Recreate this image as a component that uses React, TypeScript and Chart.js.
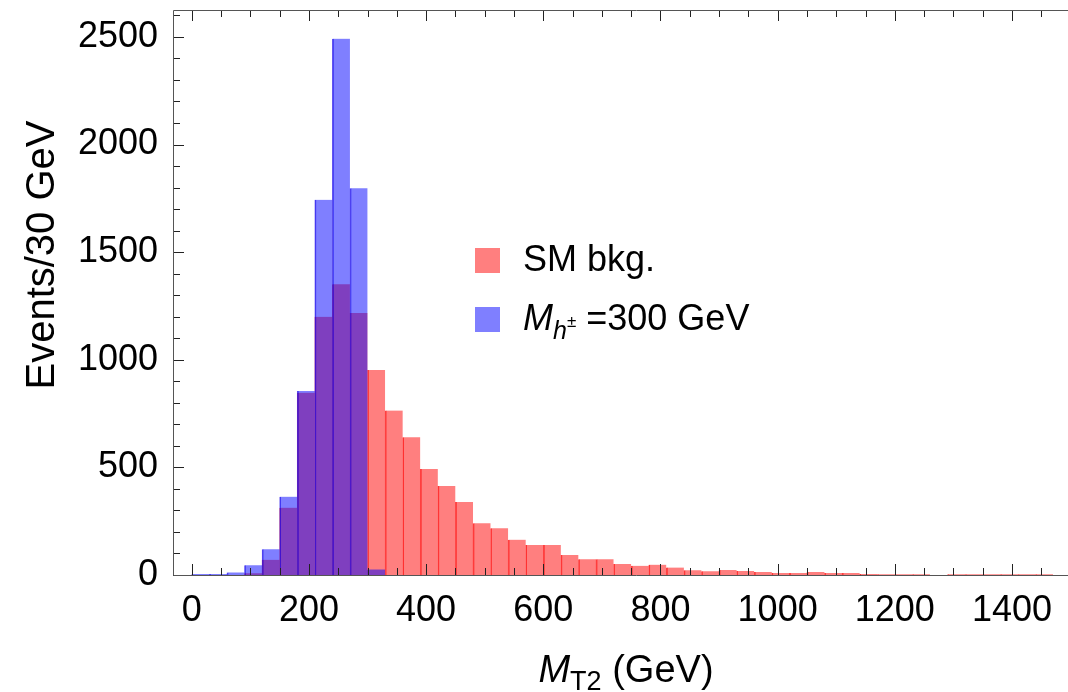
import React, { useEffect, useRef } from "react";
import { Chart, registerables } from "chart.js";

Chart.register(...registerables);

// Lower edges of the 30 GeV bins (GeV)
const BIN_LOW_EDGES = [
  0, 30, 60, 90, 120, 150, 180, 210, 240, 270, 300, 330, 360, 390, 420, 450,
  480, 510, 540, 570, 600, 630, 660, 690, 720, 750, 780, 810, 840, 870, 900,
  930, 960, 990, 1020, 1050, 1080, 1110, 1140, 1170, 1200, 1230, 1260, 1290,
  1320, 1350, 1380, 1410, 1440,
];
const BIN_WIDTH_GEV = 30;

// M_h± = 300 GeV signal
const SIGNAL_EVENTS = [
  5, 5, 12, 45, 120, 364, 855, 1743, 2492, 1797, 26, 0, 0, 0, 0, 0, 0, 0, 0,
  0, 0, 0, 0, 0, 0, 0, 0, 0, 0, 0, 0, 0, 0, 0, 0, 0, 0, 0, 0, 0, 0, 0, 0, 0,
  0, 0, 0, 0, 0,
];

// SM background
const BKG_EVENTS = [
  0, 0, 0, 8, 71, 313, 847, 1200, 1351, 1217, 953, 764, 640, 493, 414, 339,
  240, 217, 164, 139, 139, 93, 73, 73, 51, 43, 48, 35, 22, 17, 23, 19, 14, 9,
  9, 14, 9, 9, 5, 4, 4, 3, 0, 3, 4, 4, 3, 4, 3,
];

const X_TICK_VALUES = [0, 200, 400, 600, 800, 1000, 1200, 1400];
const Y_TICK_VALUES = [0, 500, 1000, 1500, 2000, 2500];
const X_MINOR_STEP = 50;
const Y_MINOR_STEP = 100;

const FONT = '"Liberation Sans", Arial, sans-serif';

const framePlugin = {
  id: "mmaFrame",
  afterDatasetsDraw(chart: any) {
    const { ctx, chartArea: a, scales } = chart;
    const xs = scales.x;
    const ys = scales.y;
    ctx.save();
    ctx.lineWidth = 1;
    ctx.strokeStyle = "#222";
    // x ticks (bottom and top, inward)
    for (let v = 0; v <= xs.max; v += X_MINOR_STEP) {
      const px = Math.round(xs.getPixelForValue(v)) + 0.5;
      const len = X_TICK_VALUES.includes(v) ? 11 : 7;
      ctx.beginPath();
      ctx.moveTo(px, a.bottom);
      ctx.lineTo(px, a.bottom - len);
      ctx.moveTo(px, a.top);
      ctx.lineTo(px, a.top + len);
      ctx.stroke();
    }
    // y ticks (left, inward)
    for (let v = 0; v <= ys.max; v += Y_MINOR_STEP) {
      const py = Math.round(ys.getPixelForValue(v)) + 0.5;
      const len = Y_TICK_VALUES.includes(v) ? 11 : 7;
      ctx.beginPath();
      ctx.moveTo(a.left, py);
      ctx.lineTo(a.left + len, py);
      ctx.stroke();
    }
    // frame
    ctx.strokeStyle = "#555";
    const l = Math.round(a.left) + 0.5;
    const t = Math.round(a.top) + 0.5;
    const b = Math.round(a.bottom) + 0.5;
    ctx.beginPath();
    ctx.moveTo(a.right + 5, t);
    ctx.lineTo(l, t);
    ctx.lineTo(l, b);
    ctx.lineTo(a.right + 5, b);
    ctx.stroke();
    ctx.restore();
  },
};

export default function App() {
  const canvasRef = useRef<HTMLCanvasElement | null>(null);

  useEffect(() => {
    const canvas = canvasRef.current;
    if (!canvas) return;
    const chart = new Chart(canvas, {
      type: "bar",
      data: {
        datasets: [
          {
            label: "M_h± =300 GeV",
            data: BIN_LOW_EDGES.map((lo, i) => ({
              x: lo + BIN_WIDTH_GEV / 2,
              y: SIGNAL_EVENTS[i],
            })),
            backgroundColor: "rgba(0,0,255,0.5)",
            borderColor: "rgba(40,20,230,0.75)",
            borderWidth: { left: 1, right: 0, top: 0, bottom: 0 },
            borderSkipped: false,
            grouped: false,
            categoryPercentage: 1,
            barPercentage: 1,
          } as any,
          {
            label: "SM bkg.",
            data: BIN_LOW_EDGES.map((lo, i) => ({
              x: lo + BIN_WIDTH_GEV / 2,
              y: BKG_EVENTS[i],
            })),
            backgroundColor: "rgba(255,0,0,0.5)",
            borderColor: "rgba(255,0,0,0.72)",
            borderWidth: { left: 1, right: 0, top: 0, bottom: 0 },
            borderSkipped: false,
            grouped: false,
            categoryPercentage: 1,
            barPercentage: 1,
          } as any,
        ],
      },
      options: {
        animation: false,
        responsive: false,
        devicePixelRatio: 1,
        layout: { padding: { top: 10, right: 6, left: 0, bottom: 0 } },
        plugins: {
          legend: { display: false },
          tooltip: { enabled: false },
          title: { display: false },
        },
        scales: {
          x: {
            type: "linear",
            min: -32,
            max: 1540,
            offset: false,
            grid: { display: false, drawTicks: false },
            border: { display: false },
            afterBuildTicks: (scale: any) => {
              scale.ticks = X_TICK_VALUES.map((v) => ({ value: v }));
            },
            afterFit: (scale: any) => {
              scale.height = 117;
              scale.paddingLeft = 0;
              scale.paddingRight = 0;
            },
            ticks: {
              autoSkip: false,
              maxRotation: 0,
              padding: 14,
              color: "#000",
              font: { family: FONT, size: 36 },
              callback: (v: any) => String(v),
            },
          },
          y: {
            type: "linear",
            min: 0,
            max: 2625,
            grid: { display: false, drawTicks: false },
            border: { display: false },
            afterBuildTicks: (scale: any) => {
              scale.ticks = Y_TICK_VALUES.map((v) => ({ value: v }));
            },
            afterFit: (scale: any) => {
              scale.width = 173;
              scale.paddingTop = 0;
              scale.paddingBottom = 0;
            },
            ticks: {
              padding: 15,
              color: "#000",
              font: { family: FONT, size: 36 },
              callback: (v: any) => String(v),
            },
          },
        },
      },
      plugins: [framePlugin],
    });
    return () => chart.destroy();
  }, []);

  const textBase: React.CSSProperties = {
    position: "absolute",
    fontFamily: FONT,
    color: "#000",
    whiteSpace: "nowrap",
  };

  return (
    <div
      style={{
        position: "fixed",
        left: 0,
        top: 0,
        width: 1068,
        height: 692,
        overflow: "hidden",
        background: "#fff",
      }}
    >
      <canvas
        ref={canvasRef}
        width={1100}
        height={692}
        style={{ display: "block", width: 1100, height: 692 }}
      />
      {/* y-axis title */}
      <div
        style={{
          ...textBase,
          left: 40 - 250,
          top: 255 - 25,
          width: 500,
          height: 50,
          lineHeight: "50px",
          fontSize: 40,
          textAlign: "center",
          transform: "rotate(-90deg)",
        }}
      >
        Events/30 GeV
      </div>
      {/* x-axis title */}
      <div
        style={{
          ...textBase,
          left: 426,
          width: 400,
          top: 650,
          fontSize: 38,
          lineHeight: "38px",
          textAlign: "center",
        }}
      >
        <i>M</i>
        <span style={{ fontSize: 27, position: "relative", top: 8 }}>T2</span>{" "}
        (GeV)
      </div>
      {/* legend */}
      <div
        style={{
          position: "absolute",
          left: 475,
          top: 248,
          width: 25,
          height: 25,
          background: "rgba(255,0,0,0.5)",
        }}
      />
      <div style={{ ...textBase, left: 523, top: 241, fontSize: 36, lineHeight: "36px" }}>
        SM bkg.
      </div>
      <div
        style={{
          position: "absolute",
          left: 475,
          top: 307,
          width: 25,
          height: 25,
          background: "rgba(0,0,255,0.5)",
        }}
      />
      <div style={{ ...textBase, left: 523, top: 300, fontSize: 36, lineHeight: "36px" }}>
        <i>M</i>
        <span style={{ fontSize: 25, position: "relative", top: 9 }}>
          <i>h</i>
          <span style={{ fontSize: 17, position: "relative", top: -12 }}>±</span>
        </span>{" "}
        =300 GeV
      </div>
    </div>
  );
}
